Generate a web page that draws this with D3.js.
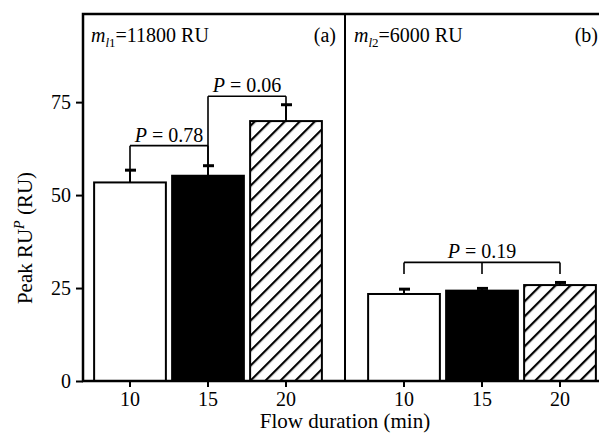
<!DOCTYPE html>
<html>
<head>
<meta charset="utf-8">
<script src="https://cdn.jsdelivr.net/npm/d3@7"></script>
<style>
  body { margin: 0; background: white; }
  svg { display: block; font-family: "Liberation Serif", "Times New Roman", serif; }
</style>
</head>
<body>
<div id="chart"></div>
<script>
// data
var durations = ["10", "15", "20"];
var yTicks = [0, 25, 50, 75];

var meansA = [53.4, 55.2, 69.9];
var errsA = [3.3, 2.7, 4.4];
var meansB = [23.4, 24.3, 25.8];
var errsB = [1.3, 0.6, 0.7];

// brackets: bars joined, p value, height of the bar, foot of the legs (null = error cap)
var bracketsA = [
    { bars: [0, 1], p: "0.78", level: 63.3, foot: null },
    { bars: [1, 2], p: "0.06", level: 76.6, foot: null }
];
var bracketsB = [
    { bars: [0, 1, 2], p: "0.19", level: 31.9, foot: 28.8 }
];

var width = 599, height = 433;
var plotLeft = 83, plotRight = 601, plotTop = 14, plotBottom = 381, mid = 345;
var fills = ["white", "black", "url(#hatch)"];

var svg = d3.select("#chart").append("svg")
    .attr("width", width)
    .attr("height", height);

// hatch pattern for the 20 min bar
var pat = svg.append("defs").append("pattern")
    .attr("id", "hatch")
    .attr("patternUnits", "userSpaceOnUse")
    .attr("width", 10.6)
    .attr("height", 10.6)
    .attr("patternTransform", "rotate(45)");
pat.append("rect").attr("width", 10.6).attr("height", 10.6).attr("fill", "white");
pat.append("line")
    .attr("x1", 0).attr("y1", 0).attr("x2", 0).attr("y2", 10.6)
    .attr("stroke", "black").attr("stroke-width", 4.4);

var yScale = d3.scaleLinear().domain([0, 98.7]).range([plotBottom, plotTop]);

var panels = [
    { means: meansA, errs: errsA, brackets: bracketsA, range: [91, 325], sub: "l1", val: "=11800 RU", tag: "(a)", tagX: mid - 9, labX: 91 },
    { means: meansB, errs: errsB, brackets: bracketsB, range: [365, 599], sub: "l2", val: "=6000 RU", tag: "(b)", tagX: 598, labX: 354 }
];

// Y axis
var yAxis = svg.append("g")
    .attr("transform", "translate(" + plotLeft + ",0)")
    .call(d3.axisLeft(yScale).tickValues(yTicks).tickSize(7).tickPadding(5));
yAxis.select(".domain").remove();
yAxis.selectAll("line").attr("stroke-width", 2);
yAxis.selectAll("text").style("font-family", "Liberation Serif").style("font-size", "20px");

panels.forEach(function(p) {
    var x = d3.scaleBand().domain(durations).range(p.range).paddingInner(0.08).paddingOuter(0.04);
    var cx = function(i) { return x(durations[i]) + x.bandwidth() / 2; };

    // X axis
    var xAxis = svg.append("g")
        .attr("transform", "translate(0," + plotBottom + ")")
        .call(d3.axisBottom(x).tickSize(6).tickPadding(5));
    xAxis.select(".domain").remove();
    xAxis.selectAll("line").attr("stroke-width", 2);
    xAxis.selectAll("text").style("font-family", "Liberation Serif").style("font-size", "20px");

    // error bars (upper half)
    var eb = svg.append("g").attr("stroke", "black").attr("stroke-width", 2);
    p.means.forEach(function(m, i) {
        eb.append("line")
            .attr("x1", cx(i)).attr("x2", cx(i))
            .attr("y1", yScale(m)).attr("y2", yScale(m + p.errs[i]));
        eb.append("line")
            .attr("x1", cx(i) - 5).attr("x2", cx(i) + 6)
            .attr("y1", yScale(m + p.errs[i])).attr("y2", yScale(m + p.errs[i]))
            .attr("stroke-width", 3);
    });

    // bars
    svg.append("g").selectAll("rect")
        .data(p.means)
        .enter()
        .append("rect")
        .attr("x", (d, i) => x(durations[i]))
        .attr("y", (d) => yScale(d))
        .attr("width", x.bandwidth())
        .attr("height", (d) => plotBottom - yScale(d))
        .attr("fill", (d, i) => fills[i])
        .attr("stroke", "black")
        .attr("stroke-width", 2);

    // significance brackets
    p.brackets.forEach(function(b) {
        var g = svg.append("g");
        var yb = yScale(b.level);
        var first = b.bars[0], last = b.bars[b.bars.length - 1];
        g.append("line")
            .attr("x1", cx(first)).attr("x2", cx(last))
            .attr("y1", yb).attr("y2", yb)
            .attr("stroke", "black").attr("stroke-width", 1.6);
        b.bars.forEach(function(i) {
            var footVal = b.foot === null ? p.means[i] + p.errs[i] : b.foot;
            g.append("line")
                .attr("x1", cx(i)).attr("x2", cx(i))
                .attr("y1", yb).attr("y2", yScale(footVal))
                .attr("stroke", "black").attr("stroke-width", 1.6);
        });
        var t = g.append("text")
            .attr("x", (cx(first) + cx(last)) / 2)
            .attr("y", yb - 4)
            .attr("text-anchor", "middle")
            .style("font-size", "20px");
        t.append("tspan").style("font-style", "italic").text("P");
        t.append("tspan").text(" = " + b.p);
    });

    // panel labels
    var lab = svg.append("text")
        .attr("x", p.labX)
        .attr("y", 42)
        .style("font-size", "20px");
    lab.append("tspan").style("font-style", "italic").text("m");
    lab.append("tspan").style("font-style", "italic").style("font-size", "13px").attr("dy", 5).text(p.sub[0]);
    lab.append("tspan").style("font-size", "13px").text(p.sub[1]);
    lab.append("tspan").attr("dy", -5).text(p.val);

    svg.append("text")
        .attr("x", p.tagX)
        .attr("y", 42)
        .attr("text-anchor", "end")
        .style("font-size", "20px")
        .text(p.tag);
});

// frame and panel divider
svg.append("path")
    .attr("d", "M" + plotRight + "," + plotTop + "H" + plotLeft + "V" + plotBottom + "H" + plotRight)
    .attr("fill", "none")
    .attr("stroke", "black")
    .attr("stroke-width", 2.5);
svg.append("line")
    .attr("x1", mid).attr("x2", mid)
    .attr("y1", plotTop).attr("y2", plotBottom)
    .attr("stroke", "black").attr("stroke-width", 2);

// axis titles
var yl = svg.append("text")
    .attr("text-anchor", "middle")
    .attr("transform", "translate(32,238) rotate(-90)")
    .style("font-size", "21px");
yl.append("tspan").text("Peak RU");
yl.append("tspan").style("font-style", "italic").style("font-size", "14px").attr("dy", -8).text("P");
yl.append("tspan").attr("dy", 8).text(" (RU)");

svg.append("text")
    .attr("x", mid)
    .attr("y", 428)
    .attr("text-anchor", "middle")
    .style("font-size", "21px")
    .text("Flow duration (min)");
</script>
</body>
</html>
